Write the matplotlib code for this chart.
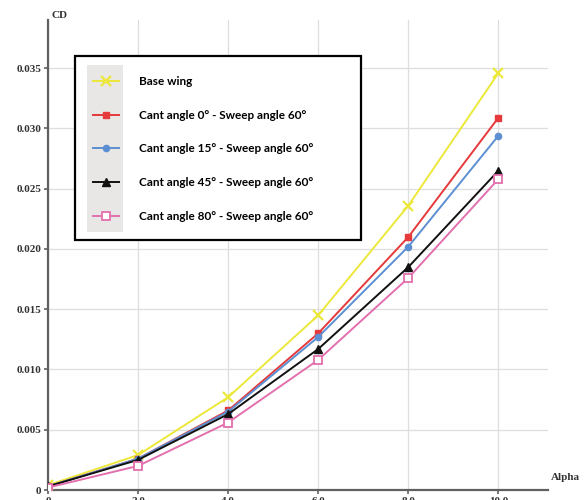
import matplotlib
matplotlib.use("Agg")
import matplotlib.pyplot as plt
from matplotlib.patches import Rectangle

alpha = [0, 2, 4, 6, 8, 10]
base_wing = [0.0004, 0.0029, 0.0077, 0.0145, 0.0236, 0.0346]
cant0 = [0.0003, 0.0026, 0.0066, 0.0130, 0.0210, 0.0309]
cant15 = [0.0003, 0.0026, 0.0065, 0.0127, 0.0202, 0.0294]
cant45 = [0.0003, 0.0025, 0.0063, 0.0117, 0.0185, 0.0265]
cant80 = [0.0002, 0.0020, 0.0056, 0.0108, 0.0176, 0.0258]

labels = ["Base wing",
          "Cant angle 0° - Sweep angle 60°",
          "Cant angle 15° - Sweep angle 60°",
          "Cant angle 45° - Sweep angle 60°",
          "Cant angle 80° - Sweep angle 60°"]
xticks = [0, 2, 4, 6, 8, 10]
xticklabels = ["0", "2.0", "4.0", "6.0", "8.0", "10.0"]
yticks = [0, 0.005, 0.010, 0.015, 0.020, 0.025, 0.030, 0.035]
yticklabels = ["0", "0.005", "0.010", "0.015", "0.020", "0.025", "0.030", "0.035"]

W, H = 585, 500
fig = plt.figure(figsize=(W / 100, H / 100), dpi=100)
ax = fig.add_axes([48 / W, 1 - 490 / H, (548 - 48) / W, (490 - 20) / H])
ax.set_xlim(0, 11.1)
ax.set_ylim(0, 0.039)

series = [
    (base_wing, dict(color="#ece83a", marker="x", ms=6.5, mew=1.6, mfc="#ece83a")),
    (cant0, dict(color="#e5393b", marker="s", ms=4, mfc="#e5393b")),
    (cant15, dict(color="#5c8fd2", marker="o", ms=4.5, mfc="#5c8fd2")),
    (cant45, dict(color="#111111", marker="^", ms=5.5, mfc="#111111")),
    (cant80, dict(color="#e36fae", marker="s", ms=6, mfc="white", mew=1.3)),
]
handles = []
for (vals, st), lab in zip(series, labels):
    h, = ax.plot(alpha, vals, lw=1.4, label=lab, zorder=3, **st)
    handles.append(h)

ax.set_xticks(xticks)
ax.set_xticklabels(xticklabels)
ax.set_yticks(yticks)
ax.set_yticklabels(yticklabels)
ax.grid(True, color="#dedede", lw=0.9)
ax.set_axisbelow(True)
for s in ["top", "right"]:
    ax.spines[s].set_visible(False)
for s in ["left", "bottom"]:
    ax.spines[s].set_color("#606060")
    ax.spines[s].set_linewidth(1.6)
ax.tick_params(axis="both", length=3, width=1.2, color="#606060", pad=2)
for t in ax.get_xticklabels() + ax.get_yticklabels():
    t.set_fontfamily("Liberation Serif")
    t.set_fontweight("bold")
    t.set_fontsize(8)
    t.set_color("#333333")

fig.text(52 / W, 1 - 15 / H, "CD", family="Liberation Serif", weight="bold",
         fontsize=8, color="#333333", va="center", ha="left")
fig.text(551 / W, 1 - 478 / H, "Alpha", family="Liberation Serif", weight="bold",
         fontsize=8, color="#333333", va="center", ha="left")

# legend box and grey handle background
box = Rectangle((75 / W, 1 - 240 / H), (361 - 75) / W, (240 - 56) / H,
                transform=fig.transFigure, facecolor="white", edgecolor="black",
                lw=1.6, zorder=4)
fig.patches.append(box)
grey = Rectangle((87 / W, 1 - 232 / H), (123 - 87) / W, (232 - 65) / H,
                 transform=fig.transFigure, facecolor="#e9e7e5", edgecolor="none",
                 zorder=4.5)
fig.patches.append(grey)

leg = fig.legend(handles=handles, loc="upper left",
                 bbox_to_anchor=(93 / W, 1 - 76 / H), frameon=False,
                 prop={"family": "Lato", "weight": "bold", "size": 8.5},
                 handlelength=2.2, handletextpad=1.7, labelspacing=1.92,
                 borderpad=0.0, borderaxespad=0)
leg.set_zorder(6)

fig.savefig("out.png", dpi=100)
